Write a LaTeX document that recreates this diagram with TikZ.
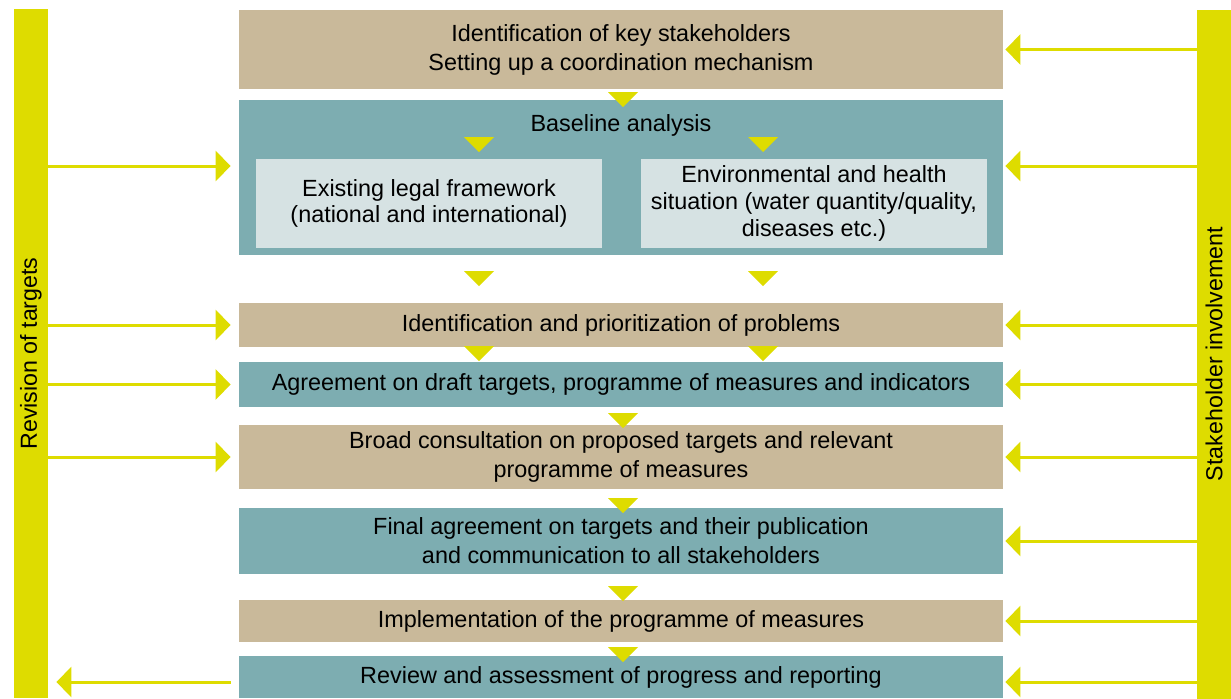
\documentclass[tikz,border=0pt]{standalone}
\usepackage{fontspec}
\setmainfont{Liberation Sans}
\usetikzlibrary{arrows.meta}
\definecolor{tanbox}{HTML}{C9B99A}
\definecolor{tealbox}{HTML}{7DADB1}
\definecolor{lightbox}{HTML}{D6E2E3}
\definecolor{barylw}{HTML}{DEDC00}

\begin{document}
\begin{tikzpicture}[x=0.5pt, y=-0.5pt,
    stage/.style={rectangle, inner sep=0pt, minimum width=382pt, align=center, font=\fontsize{11.7}{14.5}\selectfont},
    sub/.style={rectangle, fill=lightbox, inner sep=0pt, minimum width=173pt, minimum height=44.5pt, align=center, font=\fontsize{11.7}{13.3}\selectfont},
    sidebar/.style={rectangle, fill=barylw, inner sep=0pt, minimum width=17pt, minimum height=344.5pt},
    flow/.style={draw=barylw, line width=1.5pt, -{Triangle[length=7.5pt, width=15pt]}}]
    \useasboundingbox (0,0) rectangle (1231,698);

    % side bars
    \node[sidebar, label={[rotate=90, font=\fontsize{11.6}{14}\selectfont]center:Revision of targets}] (rev) at (31,353.5) {};
    \node[sidebar, label={[rotate=90, font=\fontsize{11.6}{14}\selectfont]center:Stakeholder involvement}] (stk) at (1214,354) {};

    % steps
    \node[stage, fill=tanbox, minimum height=39.5pt] (b1) at (621,49.5) {Identification of key stakeholders\\Setting up a coordination mechanism};
    \node[stage, fill=tealbox, minimum height=77.5pt] (b2) at (621,177.5) {};
    \node[font=\fontsize{11.7}{14.5}\selectfont] (base) at (621,125) {Baseline analysis};
    \node[sub] (legal) at (429,203.5) {Existing legal framework\\(national and international)};
    \node[sub] (env) at (814,203.5) {Environmental and health\\situation (water quantity/quality,\\diseases etc.)};
    \node[stage, fill=tanbox, minimum height=22pt] (b3) at (621,325) {Identification and prioritization of problems};
    \node[stage, fill=tealbox, minimum height=22.5pt] (b4) at (621,384.5) {Agreement on draft targets, programme of measures and indicators};
    \node[stage, fill=tanbox, minimum height=32pt] (b5) at (621,457) {Broad consultation on proposed targets and relevant\\programme of measures};
    \node[stage, fill=tealbox, minimum height=33pt] (b6) at (621,541) {Final agreement on targets and their publication\\and communication to all stakeholders};
    \node[stage, fill=tanbox, minimum height=21pt] (b7) at (621,621) {Implementation of the programme of measures};
    \node[stage, fill=tealbox, minimum height=21pt] (b8) at (621,677) {Review and assessment of progress and reporting};

    % small down triangles
    \foreach \x/\y in {623/92, 479/137, 763/137, 479/271, 763/271, 479/346, 763/346, 623/413, 623/498, 623/586, 623/647}
        \fill[barylw] (\x-15,\y) -- (\x+15,\y) -- (\x,\y+15) -- cycle;

    \coordinate (y166) at (0,166);
    \coordinate (y682) at (0,682);

    % revision arrows
    \draw[flow, shorten >=4pt] (rev.east |- y166) -- (b2.west |- y166);
    \foreach \b in {b3,b4,b5}
        \draw[flow, shorten >=4pt] (rev.east |- \b.west) -- (\b.west);
    \draw[flow, shorten <=4pt, shorten >=4pt] (b8.west |- y682) -- (rev.east |- y682);

    % stakeholder arrows
    \draw[flow, shorten >=1pt] (stk.west |- y166) -- (b2.east |- y166);
    \foreach \b in {b1,b3,b4,b5,b6,b7}
        \draw[flow, shorten >=1pt] (stk.west |- \b.east) -- (\b.east);
    \draw[flow, shorten >=1pt] (stk.west |- y682) -- (b8.east |- y682);
\end{tikzpicture}
\end{document}
